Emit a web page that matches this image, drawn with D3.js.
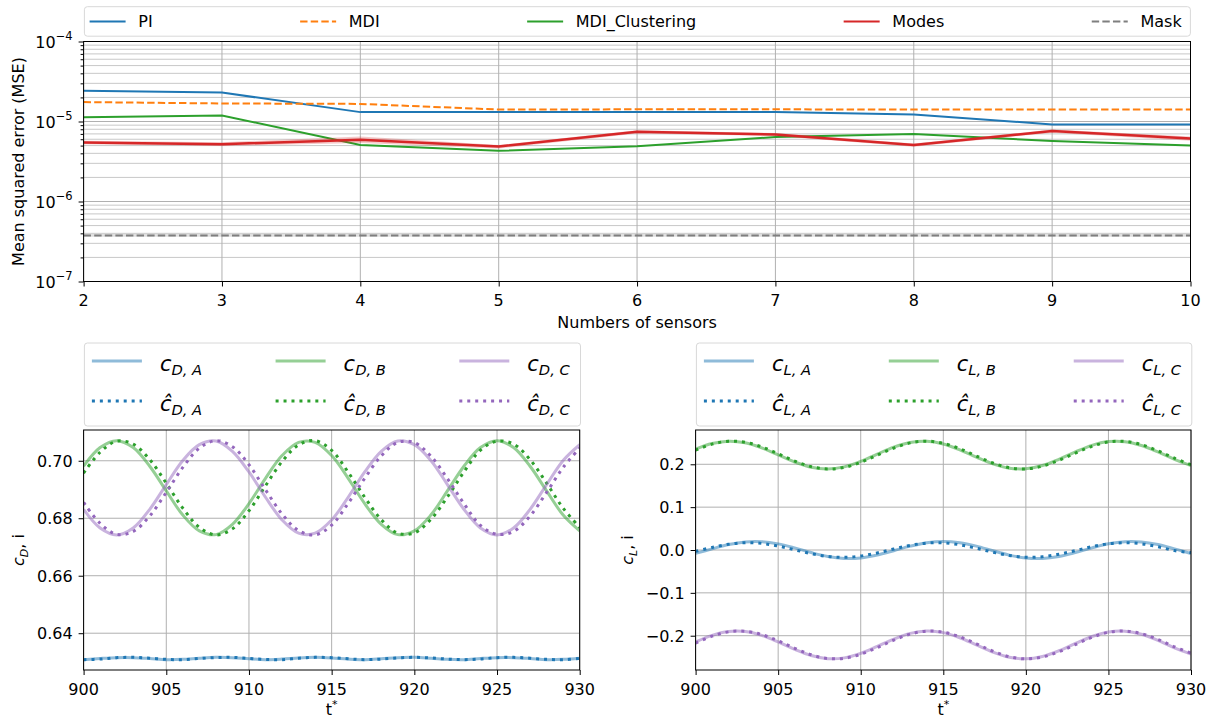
<!DOCTYPE html>
<html>
<head>
<meta charset="utf-8">
<script src="https://cdn.jsdelivr.net/npm/d3@7"></script>
<style>
  body { margin: 0; background: #fff; }
  svg { font-family: "DejaVu Sans", sans-serif; }
</style>
</head>
<body>
<svg id="chart" width="1219" height="720"></svg>
<script>
// ---------- top panel data (MSE vs number of sensors) ----------
const sensors = [2, 3, 4, 5, 6, 7, 8, 9, 10];
const msePI = [2.42e-5, 2.30e-5, 1.31e-5, 1.31e-5, 1.31e-5, 1.31e-5, 1.22e-5, 9.2e-6, 9.2e-6];
const mseMDI = [1.75e-5, 1.68e-5, 1.66e-5, 1.41e-5, 1.42e-5, 1.42e-5, 1.41e-5, 1.41e-5, 1.41e-5];
const mseMDIClustering = [1.13e-5, 1.19e-5, 5.1e-6, 4.3e-6, 4.9e-6, 6.4e-6, 7.0e-6, 5.7e-6, 5.0e-6];
const mseModes = [5.46e-6, 5.21e-6, 5.9e-6, 4.87e-6, 7.44e-6, 6.89e-6, 5.07e-6, 7.59e-6, 6.14e-6];
const mseModesLow = [5.2e-6, 4.95e-6, 5.4e-6, 4.6e-6, 7.1e-6, 6.6e-6, 4.85e-6, 7.25e-6, 5.75e-6];
const mseModesHigh = [5.75e-6, 5.5e-6, 6.5e-6, 5.1e-6, 7.8e-6, 7.2e-6, 5.3e-6, 7.95e-6, 6.5e-6];
const mseMask = [3.76e-7, 3.76e-7, 3.76e-7, 3.76e-7, 3.76e-7, 3.76e-7, 3.76e-7, 3.76e-7, 3.76e-7];
const mseMaskLow = [3.62e-7, 3.62e-7, 3.62e-7, 3.62e-7, 3.62e-7, 3.62e-7, 3.62e-7, 3.62e-7, 3.62e-7];
const mseMaskHigh = [3.92e-7, 3.92e-7, 3.92e-7, 3.92e-7, 3.92e-7, 3.92e-7, 3.92e-7, 3.92e-7, 3.92e-7];
const mseTicks = [1e-7, 1e-6, 1e-5, 1e-4];
const mseTickExp = ["\u22127", "\u22126", "\u22125", "\u22124"];

// ---------- bottom panels data (coefficients vs t*) ----------
const tStar = [900, 901, 902, 903, 904, 905, 906, 907, 908, 909, 910, 911, 912, 913, 914, 915,
               916, 917, 918, 919, 920, 921, 922, 923, 924, 925, 926, 927, 928, 929, 930];
const tTicks = [900, 905, 910, 915, 920, 925, 930];

const cDA = [.6308, .6312, .6315, .6315, .6312, .6308, .6309, .6313, .6316, .6315, .6311, .6308, .6310, .6314, .6316, .6314,
             .6310, .6308, .6311, .6315, .6316, .6313, .6309, .6308, .6312, .6315, .6315, .6312, .6308, .6309, .6313];
const cDAhat = [.6308, .6310, .6315, .6316, .6313, .6309, .6308, .6312, .6315, .6316, .6312, .6309, .6308, .6313, .6316, .6315,
                .6311, .6308, .6310, .6314, .6316, .6314, .6310, .6308, .6310, .6315, .6316, .6313, .6309, .6308, .6312];
const cDB = [.6981, .7046, .7070, .7046, .6981, .6895, .6811, .6756, .6743, .6779, .6851, .6939, .7018, .7064, .7064, .7018,
             .6939, .6851, .6779, .6743, .6756, .6811, .6895, .6981, .7046, .7070, .7046, .6981, .6895, .6811, .6756];
const cDBhat = [.6957, .7030, .7068, .7058, .7004, .6922, .6835, .6768, .6742, .6763, .6826, .6913, .6997, .7055, .7070, .7036,
                .6960, .6873, .6795, .6748, .6749, .6796, .6874, .6961, .7037, .7068, .7058, .7004, .6922, .6835, .6768];
const cDC = [.6831, .6766, .6742, .6766, .6831, .6917, .7001, .7056, .7069, .7033, .6961, .6873, .6794, .6748, .6748, .6794,
             .6873, .6961, .7033, .7069, .7056, .7001, .6917, .6831, .6766, .6742, .6766, .6831, .6917, .7001, .7056];
const cDChat = [.6855, .6782, .6744, .6754, .6808, .6890, .6977, .7044, .7070, .7049, .6986, .6899, .6815, .6757, .6742, .6776,
                .6852, .6939, .7017, .7064, .7063, .7016, .6938, .6851, .6775, .6744, .6754, .6808, .6890, .6977, .7044];
const cDTicks = [0.64, 0.66, 0.68, 0.70];

const cLA = [-.0080, .0027, .0127, .0189, .0195, .0143, .0049, -.0060, -.0151, -.0197, -.0185, -.0118, -.0016, .0090, .0171, .0200,
             .0170, .0090, -.0017, -.0119, -.0185, -.0197, -.0151, -.0059, .0049, .0144, .0195, .0189, .0127, .0027, -.0081];
const cLAhat = [-.0033, .0060, .0134, .0169, .0154, .0093, .0005, -.0085, -.0150, -.0170, -.0140, -.0068, .0023, .0108, .0161, .0166,
                .0122, .0041, -.0051, -.0128, -.0168, -.0157, -.0100, -.0014, .0077, .0145, .0170, .0145, .0076, -.0014, -.0060];
const cLB = [.2354, .2485, .2540, .2503, .2385, .2220, .2053, .1931, .1890, .1940, .2068, .2237, .2400, .2510, .2538, .2475,
             .2338, .2167, .2011, .1910, .1895, .1971, .2117, .2288, .2441, .2529, .2528, .2439, .2287, .2116, .1971];
const cLBhat = [.2330, .2470, .2537, .2514, .2406, .2246, .2076, .1945, .1890, .1927, .2045, .2211, .2378, .2499, .2540, .2490,
                .2363, .2193, .2030, .1920, .1892, .1955, .2092, .2262, .2419, .2521, .2534, .2457, .2313, .2141, .1989];
const cLC = [-.2145, -.1991, -.1902, -.1902, -.1991, -.2145, -.2319, -.2463, -.2536, -.2517, -.2412, -.2250, -.2079, -.1946, -.1891, -.1928,
             -.2047, -.2214, -.2382, -.2502, -.2540, -.2484, -.2351, -.2181, -.2018, -.1913, -.1894, -.1967, -.2111, -.2285, -.2429];
const cLChat = [-.2171, -.2011, -.1910, -.1896, -.1973, -.2120, -.2294, -.2445, -.2531, -.2526, -.2432, -.2276, -.2103, -.1962, -.1893, -.1917,
                -.2025, -.2189, -.2360, -.2491, -.2540, -.2495, -.2375, -.2206, -.2038, -.1921, -.1891, -.1952, -.2087, -.2259, -.2408];
const cLTicks = [-0.2, -0.1, 0.0, 0.1, 0.2];

const C_BLUE = "#1f77b4", C_ORANGE = "#ff7f0e", C_GREEN = "#2ca02c",
      C_RED = "#d62728", C_PURPLE = "#9467bd", C_GRAY = "#7f7f7f";
const FS = 16;

const svg = d3.select("#chart");

// legend helper: columns of items, spread over the box width (like mode="expand")
function drawLegend(box, columns, o) {
  const g = svg.append("g");
  g.append("rect")
    .attr("x", box.x).attr("y", box.y).attr("width", box.w).attr("height", box.h)
    .attr("rx", 3).attr("fill", "#fff").attr("stroke", "#d8d8d8").attr("stroke-width", 1);
  const colGroups = columns.map(col => {
    const cg = g.append("g");
    col.forEach((it, r) => {
      const cy = o.rows[r];
      cg.append("line").attr("x1", 0).attr("x2", o.handle).attr("y1", cy).attr("y2", cy).call(it.line);
      const t = cg.append("text").attr("x", o.handle + o.pad).attr("y", cy + o.baseline);
      it.label(t);
    });
    return cg;
  });
  const widths = colGroups.map(cg => cg.node().getBBox().width);
  const left = box.x + o.left, right = box.x + box.w - o.right;
  const gap = (right - left - d3.sum(widths)) / (columns.length - 1);
  let cur = left;
  colGroups.forEach((cg, i) => {
    cg.attr("transform", `translate(${cur},0)`);
    cur += widths[i] + gap;
  });
}

function mathLabel(t, base, sub, fs) {
  t.attr("font-style", "italic").attr("fill", "#000");
  t.append("tspan").attr("font-size", fs).text(base);
  t.append("tspan").attr("font-size", fs * 0.7).attr("dy", fs * 0.2).text(sub);
}

// ================= TOP PANEL =================
const topBox = { x0: 83.6, x1: 1190.5, y0: 41.5, y1: 281.5 };
const xTop = d3.scaleLinear().domain([2, 10]).range([topBox.x0, topBox.x1]);
const yTop = d3.scaleLog().domain([1e-7, 1e-4]).range([topBox.y1, topBox.y0]);

const gTop = svg.append("g");
const minorTicks = yTop.ticks().filter(v => mseTicks.indexOf(v) < 0 && Math.abs(Math.log10(v) % 1) > 1e-6);

// grid: minor + major horizontal, vertical at sensors
gTop.append("g").selectAll("line").data(minorTicks).enter().append("line")
  .attr("x1", topBox.x0).attr("x2", topBox.x1)
  .attr("y1", d => yTop(d)).attr("y2", d => yTop(d))
  .attr("stroke", "#c8c8c8").attr("stroke-width", 1);
gTop.append("g").selectAll("line").data(mseTicks).enter().append("line")
  .attr("x1", topBox.x0).attr("x2", topBox.x1)
  .attr("y1", d => yTop(d)).attr("y2", d => yTop(d))
  .attr("stroke", "#b0b0b0").attr("stroke-width", 1);
gTop.append("g").selectAll("line").data(sensors).enter().append("line")
  .attr("x1", d => xTop(d)).attr("x2", d => xTop(d))
  .attr("y1", topBox.y0).attr("y2", topBox.y1)
  .attr("stroke", "#b0b0b0").attr("stroke-width", 1);

const lineTop = vals => d3.line().x((d, i) => xTop(sensors[i])).y(d => yTop(d))(vals);
const areaTop = (lo, hi) => d3.area().x((d, i) => xTop(sensors[i])).y0((d, i) => yTop(lo[i])).y1((d, i) => yTop(hi[i]))(lo);

gTop.append("path").attr("d", lineTop(msePI)).attr("fill", "none").attr("stroke", C_BLUE).attr("stroke-width", 2);
gTop.append("path").attr("d", lineTop(mseMDI)).attr("fill", "none").attr("stroke", C_ORANGE).attr("stroke-width", 2)
  .attr("stroke-dasharray", "7.4,3.2");
gTop.append("path").attr("d", lineTop(mseMDIClustering)).attr("fill", "none").attr("stroke", C_GREEN).attr("stroke-width", 2);
gTop.append("path").attr("d", areaTop(mseModesLow, mseModesHigh)).attr("fill", C_RED).attr("fill-opacity", 0.25);
gTop.append("path").attr("d", lineTop(mseModes)).attr("fill", "none").attr("stroke", C_RED).attr("stroke-width", 2.5);
gTop.append("path").attr("d", areaTop(mseMaskLow, mseMaskHigh)).attr("fill", C_GRAY).attr("fill-opacity", 0.25);
gTop.append("path").attr("d", lineTop(mseMask)).attr("fill", "none").attr("stroke", C_GRAY).attr("stroke-width", 2)
  .attr("stroke-dasharray", "7.4,3.2");

// axes
gTop.append("g").attr("transform", `translate(${topBox.x0},0)`)
  .call(d3.axisLeft(yTop).tickValues(minorTicks).tickSize(3).tickFormat(""))
  .call(g => g.select(".domain").remove());
gTop.append("g").attr("transform", `translate(${topBox.x0},0)`)
  .call(d3.axisLeft(yTop).tickValues(mseTicks).tickSize(5).tickFormat(""))
  .call(g => g.select(".domain").remove());
gTop.append("g").attr("transform", `translate(0,${topBox.y1})`)
  .call(d3.axisBottom(xTop).tickValues(sensors).tickSize(5).tickFormat(""))
  .call(g => g.select(".domain").remove());
gTop.append("rect").attr("x", topBox.x0).attr("y", topBox.y0)
  .attr("width", topBox.x1 - topBox.x0).attr("height", topBox.y1 - topBox.y0)
  .attr("fill", "none").attr("stroke", "#000").attr("stroke-width", 1);

gTop.append("g").selectAll("text").data(sensors).enter().append("text")
  .attr("x", d => xTop(d)).attr("y", topBox.y1 + 24.5)
  .attr("text-anchor", "middle").attr("font-size", FS).text(d => d);
mseTicks.forEach((v, i) => {
  const t = gTop.append("text").attr("x", topBox.x0 - 11).attr("y", yTop(v) + 6)
    .attr("text-anchor", "end").attr("font-size", FS);
  t.append("tspan").text("10");
  t.append("tspan").attr("font-size", 11.5).attr("dy", -7.5).text(mseTickExp[i]);
});
gTop.append("text").attr("x", (topBox.x0 + topBox.x1) / 2).attr("y", 328)
  .attr("text-anchor", "middle").attr("font-size", FS).text("Numbers of sensors");
gTop.append("text").attr("transform", `translate(24,${(topBox.y0 + topBox.y1) / 2}) rotate(-90)`)
  .attr("text-anchor", "middle").attr("font-size", FS).text("Mean squared error (MSE)");

const topNames = ["PI", "MDI", "MDI_Clustering", "Modes", "Mask"];
const topColors = [C_BLUE, C_ORANGE, C_GREEN, C_RED, C_GRAY];
const topDash = [null, "7.4,3.2", null, null, "7.4,3.2"];
drawLegend({ x: 84.4, y: 6.7, w: 1106, h: 29.5 },
  topNames.map((n, i) => [{
    line: l => l.attr("stroke", topColors[i]).attr("stroke-width", 2).attr("stroke-dasharray", topDash[i]),
    label: t => t.attr("font-size", FS).text(n)
  }]),
  { rows: [21.5], baseline: 5.8, handle: 36, pad: 12.7, left: 5.2, right: 8 });

// ================= BOTTOM PANELS =================
function signalPanel(cfg) {
  const p = { x0: cfg.x0, x1: cfg.x1, y0: 430, y1: 670 };
  const x = d3.scaleLinear().domain([900, 930]).range([p.x0, p.x1]);
  const y = d3.scaleLinear().domain(cfg.yDomain).range([p.y1, p.y0]);
  const g = svg.append("g");
  const clipId = "clip-" + cfg.name;
  svg.append("clipPath").attr("id", clipId).append("rect")
    .attr("x", p.x0).attr("y", p.y0).attr("width", p.x1 - p.x0).attr("height", p.y1 - p.y0);

  // grid
  g.append("g").selectAll("line").data(cfg.yTicks).enter().append("line")
    .attr("x1", p.x0).attr("x2", p.x1).attr("y1", d => y(d)).attr("y2", d => y(d))
    .attr("stroke", "#b0b0b0").attr("stroke-width", 1);
  g.append("g").selectAll("line").data(tTicks).enter().append("line")
    .attr("x1", d => x(d)).attr("x2", d => x(d)).attr("y1", p.y0).attr("y2", p.y1)
    .attr("stroke", "#b0b0b0").attr("stroke-width", 1);

  const line = d3.line().curve(d3.curveCatmullRom).x((d, i) => x(tStar[i])).y(d => y(d));
  const lines = g.append("g").attr("clip-path", `url(#${clipId})`);
  cfg.series.forEach(s => {
    lines.append("path").attr("d", line(s.solid)).attr("fill", "none")
      .attr("stroke", s.color).attr("stroke-opacity", 0.5).attr("stroke-width", 3);
    lines.append("path").attr("d", line(s.hat)).attr("fill", "none")
      .attr("stroke", s.color).attr("stroke-width", 3).attr("stroke-dasharray", "3,4.95");
  });

  // axes
  g.append("g").attr("transform", `translate(${p.x0},0)`)
    .call(d3.axisLeft(y).tickValues(cfg.yTicks).tickSize(5).tickFormat(""))
    .call(a => a.select(".domain").remove());
  g.append("g").attr("transform", `translate(0,${p.y1})`)
    .call(d3.axisBottom(x).tickValues(tTicks).tickSize(5).tickFormat(""))
    .call(a => a.select(".domain").remove());
  g.append("rect").attr("x", p.x0).attr("y", p.y0).attr("width", p.x1 - p.x0).attr("height", p.y1 - p.y0)
    .attr("fill", "none").attr("stroke", "#000").attr("stroke-width", 1);

  g.append("g").selectAll("text").data(tTicks).enter().append("text")
    .attr("x", d => x(d)).attr("y", p.y1 + 24.5).attr("text-anchor", "middle")
    .attr("font-size", FS).text(d => d);
  g.append("g").selectAll("text").data(cfg.yTicks).enter().append("text")
    .attr("x", p.x0 - 11).attr("y", d => y(d) + 6).attr("text-anchor", "end")
    .attr("font-size", FS).text(d => d3.format(cfg.fmt)(d));

  const xt = g.append("text").attr("x", (p.x0 + p.x1) / 2).attr("y", 715)
    .attr("text-anchor", "middle").attr("font-size", FS);
  xt.append("tspan").text("t");
  xt.append("tspan").attr("font-size", 11).attr("dy", -7).text("*");

  const yl = g.append("text").attr("transform", `translate(${cfg.labelX},550) rotate(-90)`)
    .attr("text-anchor", "middle").attr("font-size", FS);
  yl.append("tspan").attr("font-style", "italic").text("c");
  yl.append("tspan").attr("font-style", "italic").attr("font-size", 11).attr("dy", 3.5).text(cfg.sub);
  yl.append("tspan").attr("dy", -3.5).text(", i");

  // legend
  drawLegend({ x: p.x0 + 0.8, y: 343, w: p.x1 - p.x0, h: 83 },
    cfg.series.map(s => [
      { line: l => l.attr("stroke", s.color).attr("stroke-opacity", 0.5).attr("stroke-width", 3),
        label: t => mathLabel(t, "c", cfg.sub + ", " + s.key, 21) },
      { line: l => l.attr("stroke", s.color).attr("stroke-width", 3).attr("stroke-dasharray", "3,4.95"),
        label: t => mathLabel(t, "\u0109", cfg.sub + ", " + s.key, 21) }
    ]),
    { rows: [361, 401], baseline: 10, handle: 50, pad: 18, left: 7.5, right: 10 });
}

signalPanel({
  name: "cd", x0: 83.6, x1: 579.7, yDomain: [0.6272, 0.7107], yTicks: cDTicks, fmt: ".2f",
  sub: "D", labelX: 24,
  series: [
    { key: "A", color: C_BLUE, solid: cDA, hat: cDAhat },
    { key: "B", color: C_GREEN, solid: cDB, hat: cDBhat },
    { key: "C", color: C_PURPLE, solid: cDC, hat: cDChat }
  ]
});
signalPanel({
  name: "cl", x0: 695.6, x1: 1191, yDomain: [-0.28, 0.28], yTicks: cLTicks, fmt: ".1f",
  sub: "L", labelX: 633,
  series: [
    { key: "A", color: C_BLUE, solid: cLA, hat: cLAhat },
    { key: "B", color: C_GREEN, solid: cLB, hat: cLBhat },
    { key: "C", color: C_PURPLE, solid: cLC, hat: cLChat }
  ]
});
</script>
</body>
</html>
